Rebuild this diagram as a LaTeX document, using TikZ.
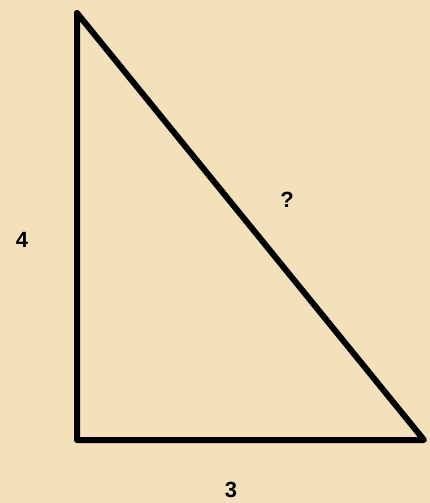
\documentclass[tikz,border=0pt]{standalone}
\usepackage{fontspec}
\setmainfont{Liberation Sans}
\definecolor{bg}{HTML}{F3E1BB}
\tikzset{side/.style={line width=6pt, line join=round, black},
  lbl/.style={font=\bfseries\fontsize{22}{22}\selectfont, text=black, inner sep=0pt}}
\begin{document}
\begin{tikzpicture}[x=1pt,y=-1pt]
\fill[bg] (0,0) rectangle (430,503);
\useasboundingbox (0,0) rectangle (430,503);
\coordinate (A) at (77,13);
\coordinate (B) at (77,440);
\coordinate (C) at (424,440);
\draw[side] (A) -- (B) -- (C) -- cycle;
\node[lbl] (four) at (22,240) {4};
\node[lbl] (q) at (287,200) {?};
\node[lbl] (three) at (231,490) {3};
\end{tikzpicture}
\end{document}
